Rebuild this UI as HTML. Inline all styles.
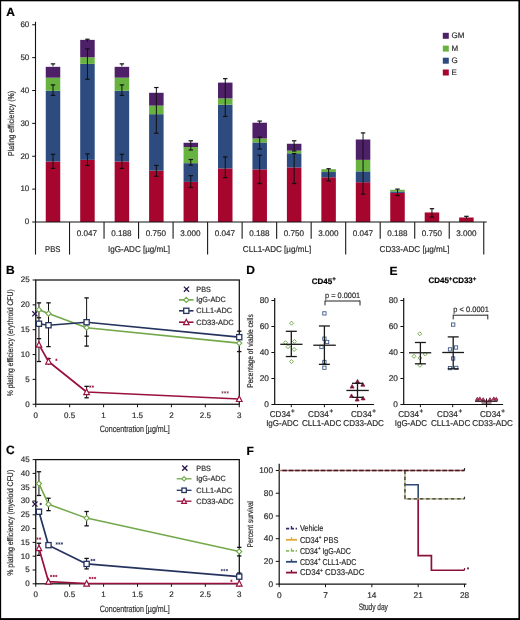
<!DOCTYPE html><html><head><meta charset="utf-8"><style>html,body{margin:0;padding:0;background:#fff;overflow:hidden;}svg{display:block;font-family:"Liberation Sans", sans-serif;text-rendering:geometricPrecision;will-change:transform;}</style></head><body>
<svg width="520" height="620" viewBox="0 0 520 620">
<rect x="0.00" y="0.00" width="520.00" height="620.00" fill="#fff"/>
<text x="6.20" y="15.63" font-size="12" fill="#000" text-anchor="start" font-weight="bold" stroke="#000" stroke-width="0.2">A</text>
<line x1="35.50" y1="21.80" x2="35.50" y2="222.50" stroke="#111" stroke-width="1.1"/>
<line x1="32.20" y1="222.00" x2="35.50" y2="222.00" stroke="#111" stroke-width="1"/>
<text x="29.30" y="224.32" font-size="8" fill="#2e2e2e" text-anchor="end" stroke="#2e2e2e" stroke-width="0.2">0</text>
<line x1="32.20" y1="189.12" x2="35.50" y2="189.12" stroke="#111" stroke-width="1"/>
<text x="29.30" y="191.44" font-size="8" fill="#2e2e2e" text-anchor="end" stroke="#2e2e2e" stroke-width="0.2">10</text>
<line x1="32.20" y1="156.25" x2="35.50" y2="156.25" stroke="#111" stroke-width="1"/>
<text x="29.30" y="158.57" font-size="8" fill="#2e2e2e" text-anchor="end" stroke="#2e2e2e" stroke-width="0.2">20</text>
<line x1="32.20" y1="123.38" x2="35.50" y2="123.38" stroke="#111" stroke-width="1"/>
<text x="29.30" y="125.69" font-size="8" fill="#2e2e2e" text-anchor="end" stroke="#2e2e2e" stroke-width="0.2">30</text>
<line x1="32.20" y1="90.50" x2="35.50" y2="90.50" stroke="#111" stroke-width="1"/>
<text x="29.30" y="92.82" font-size="8" fill="#2e2e2e" text-anchor="end" stroke="#2e2e2e" stroke-width="0.2">40</text>
<line x1="32.20" y1="57.62" x2="35.50" y2="57.62" stroke="#111" stroke-width="1"/>
<text x="29.30" y="59.95" font-size="8" fill="#2e2e2e" text-anchor="end" stroke="#2e2e2e" stroke-width="0.2">50</text>
<line x1="32.20" y1="24.75" x2="35.50" y2="24.75" stroke="#111" stroke-width="1"/>
<text x="29.30" y="27.07" font-size="8" fill="#2e2e2e" text-anchor="end" stroke="#2e2e2e" stroke-width="0.2">60</text>
<text x="11.00" y="126.29" font-size="8.5" fill="#2e2e2e" text-anchor="middle" stroke="#2e2e2e" stroke-width="0.2" textLength="65" lengthAdjust="spacingAndGlyphs" transform="rotate(-90 11.00 123.40)">Plating efficiency (%)</text>
<rect x="45.75" y="161.51" width="14.50" height="60.49" fill="#a6052e"/>
<rect x="45.75" y="90.83" width="14.50" height="70.68" fill="#2d4b7e"/>
<rect x="45.75" y="77.68" width="14.50" height="13.15" fill="#68b240"/>
<rect x="45.75" y="66.83" width="14.50" height="10.85" fill="#4e2068"/>
<line x1="53.00" y1="154.28" x2="53.00" y2="168.41" stroke="#111" stroke-width="1"/>
<line x1="50.80" y1="154.28" x2="55.20" y2="154.28" stroke="#111" stroke-width="1.2"/>
<line x1="50.80" y1="168.41" x2="55.20" y2="168.41" stroke="#111" stroke-width="1.2"/>
<line x1="53.00" y1="84.91" x2="53.00" y2="95.43" stroke="#111" stroke-width="1"/>
<line x1="50.80" y1="84.91" x2="55.20" y2="84.91" stroke="#111" stroke-width="1.2"/>
<line x1="50.80" y1="95.43" x2="55.20" y2="95.43" stroke="#111" stroke-width="1.2"/>
<line x1="53.00" y1="63.87" x2="53.00" y2="66.37" stroke="#111" stroke-width="1"/>
<line x1="50.80" y1="63.87" x2="55.20" y2="63.87" stroke="#111" stroke-width="1.2"/>
<rect x="80.20" y="159.87" width="14.50" height="62.13" fill="#a6052e"/>
<rect x="80.20" y="63.87" width="14.50" height="96.00" fill="#2d4b7e"/>
<rect x="80.20" y="57.30" width="14.50" height="6.58" fill="#68b240"/>
<rect x="80.20" y="39.87" width="14.50" height="17.42" fill="#4e2068"/>
<line x1="87.45" y1="153.95" x2="87.45" y2="165.45" stroke="#111" stroke-width="1"/>
<line x1="85.25" y1="153.95" x2="89.65" y2="153.95" stroke="#111" stroke-width="1.2"/>
<line x1="85.25" y1="165.45" x2="89.65" y2="165.45" stroke="#111" stroke-width="1.2"/>
<line x1="87.45" y1="48.91" x2="87.45" y2="79.32" stroke="#111" stroke-width="1"/>
<line x1="85.25" y1="48.91" x2="89.65" y2="48.91" stroke="#111" stroke-width="1.2"/>
<line x1="85.25" y1="79.32" x2="89.65" y2="79.32" stroke="#111" stroke-width="1.2"/>
<line x1="87.45" y1="39.22" x2="87.45" y2="41.72" stroke="#111" stroke-width="1"/>
<line x1="85.25" y1="39.22" x2="89.65" y2="39.22" stroke="#111" stroke-width="1.2"/>
<rect x="114.65" y="161.51" width="14.50" height="60.49" fill="#a6052e"/>
<rect x="114.65" y="90.83" width="14.50" height="70.68" fill="#2d4b7e"/>
<rect x="114.65" y="77.68" width="14.50" height="13.15" fill="#68b240"/>
<rect x="114.65" y="66.83" width="14.50" height="10.85" fill="#4e2068"/>
<line x1="121.90" y1="154.28" x2="121.90" y2="168.41" stroke="#111" stroke-width="1"/>
<line x1="119.70" y1="154.28" x2="124.10" y2="154.28" stroke="#111" stroke-width="1.2"/>
<line x1="119.70" y1="168.41" x2="124.10" y2="168.41" stroke="#111" stroke-width="1.2"/>
<line x1="121.90" y1="84.91" x2="121.90" y2="95.43" stroke="#111" stroke-width="1"/>
<line x1="119.70" y1="84.91" x2="124.10" y2="84.91" stroke="#111" stroke-width="1.2"/>
<line x1="119.70" y1="95.43" x2="124.10" y2="95.43" stroke="#111" stroke-width="1.2"/>
<line x1="121.90" y1="63.87" x2="121.90" y2="66.37" stroke="#111" stroke-width="1"/>
<line x1="119.70" y1="63.87" x2="124.10" y2="63.87" stroke="#111" stroke-width="1.2"/>
<rect x="149.10" y="170.72" width="14.50" height="51.28" fill="#a6052e"/>
<rect x="149.10" y="114.17" width="14.50" height="56.55" fill="#2d4b7e"/>
<rect x="149.10" y="105.62" width="14.50" height="8.55" fill="#68b240"/>
<rect x="149.10" y="92.80" width="14.50" height="12.82" fill="#4e2068"/>
<line x1="156.35" y1="165.45" x2="156.35" y2="176.30" stroke="#111" stroke-width="1"/>
<line x1="154.15" y1="165.45" x2="158.55" y2="165.45" stroke="#111" stroke-width="1.2"/>
<line x1="154.15" y1="176.30" x2="158.55" y2="176.30" stroke="#111" stroke-width="1.2"/>
<line x1="156.35" y1="87.54" x2="156.35" y2="133.24" stroke="#111" stroke-width="1"/>
<line x1="154.15" y1="87.54" x2="158.55" y2="87.54" stroke="#111" stroke-width="1.2"/>
<line x1="154.15" y1="133.24" x2="158.55" y2="133.24" stroke="#111" stroke-width="1.2"/>
<rect x="183.55" y="181.89" width="14.50" height="40.11" fill="#a6052e"/>
<rect x="183.55" y="163.15" width="14.50" height="18.74" fill="#2d4b7e"/>
<rect x="183.55" y="147.05" width="14.50" height="16.11" fill="#68b240"/>
<rect x="183.55" y="142.77" width="14.50" height="4.27" fill="#4e2068"/>
<line x1="190.80" y1="175.65" x2="190.80" y2="187.48" stroke="#111" stroke-width="1"/>
<line x1="188.60" y1="175.65" x2="193.00" y2="175.65" stroke="#111" stroke-width="1.2"/>
<line x1="188.60" y1="187.48" x2="193.00" y2="187.48" stroke="#111" stroke-width="1.2"/>
<line x1="190.80" y1="159.54" x2="190.80" y2="165.13" stroke="#111" stroke-width="1"/>
<line x1="188.60" y1="159.54" x2="193.00" y2="159.54" stroke="#111" stroke-width="1.2"/>
<line x1="188.60" y1="165.13" x2="193.00" y2="165.13" stroke="#111" stroke-width="1.2"/>
<line x1="190.80" y1="140.80" x2="190.80" y2="150.00" stroke="#111" stroke-width="1"/>
<line x1="188.60" y1="140.80" x2="193.00" y2="140.80" stroke="#111" stroke-width="1.2"/>
<line x1="188.60" y1="150.00" x2="193.00" y2="150.00" stroke="#111" stroke-width="1.2"/>
<rect x="218.00" y="168.41" width="14.50" height="53.59" fill="#a6052e"/>
<rect x="218.00" y="104.64" width="14.50" height="63.78" fill="#2d4b7e"/>
<rect x="218.00" y="98.39" width="14.50" height="6.25" fill="#68b240"/>
<rect x="218.00" y="82.61" width="14.50" height="15.78" fill="#4e2068"/>
<line x1="225.25" y1="156.91" x2="225.25" y2="177.62" stroke="#111" stroke-width="1"/>
<line x1="223.05" y1="156.91" x2="227.45" y2="156.91" stroke="#111" stroke-width="1.2"/>
<line x1="223.05" y1="177.62" x2="227.45" y2="177.62" stroke="#111" stroke-width="1.2"/>
<line x1="225.25" y1="78.66" x2="225.25" y2="116.47" stroke="#111" stroke-width="1"/>
<line x1="223.05" y1="78.66" x2="227.45" y2="78.66" stroke="#111" stroke-width="1.2"/>
<line x1="223.05" y1="116.47" x2="227.45" y2="116.47" stroke="#111" stroke-width="1.2"/>
<rect x="252.45" y="169.40" width="14.50" height="52.60" fill="#a6052e"/>
<rect x="252.45" y="142.44" width="14.50" height="26.96" fill="#2d4b7e"/>
<rect x="252.45" y="138.50" width="14.50" height="3.94" fill="#68b240"/>
<rect x="252.45" y="122.72" width="14.50" height="15.78" fill="#4e2068"/>
<line x1="259.70" y1="155.26" x2="259.70" y2="183.54" stroke="#111" stroke-width="1"/>
<line x1="257.50" y1="155.26" x2="261.90" y2="155.26" stroke="#111" stroke-width="1.2"/>
<line x1="257.50" y1="183.54" x2="261.90" y2="183.54" stroke="#111" stroke-width="1.2"/>
<line x1="259.70" y1="137.18" x2="259.70" y2="149.02" stroke="#111" stroke-width="1"/>
<line x1="257.50" y1="137.18" x2="261.90" y2="137.18" stroke="#111" stroke-width="1.2"/>
<line x1="257.50" y1="149.02" x2="261.90" y2="149.02" stroke="#111" stroke-width="1.2"/>
<line x1="259.70" y1="121.07" x2="259.70" y2="123.57" stroke="#111" stroke-width="1"/>
<line x1="257.50" y1="121.07" x2="261.90" y2="121.07" stroke="#111" stroke-width="1.2"/>
<rect x="286.90" y="167.43" width="14.50" height="54.57" fill="#a6052e"/>
<rect x="286.90" y="153.29" width="14.50" height="14.14" fill="#2d4b7e"/>
<rect x="286.90" y="150.66" width="14.50" height="2.63" fill="#68b240"/>
<rect x="286.90" y="143.76" width="14.50" height="6.90" fill="#4e2068"/>
<line x1="294.15" y1="153.62" x2="294.15" y2="183.54" stroke="#111" stroke-width="1"/>
<line x1="291.95" y1="153.62" x2="296.35" y2="153.62" stroke="#111" stroke-width="1.2"/>
<line x1="291.95" y1="183.54" x2="296.35" y2="183.54" stroke="#111" stroke-width="1.2"/>
<line x1="294.15" y1="140.80" x2="294.15" y2="150.99" stroke="#111" stroke-width="1"/>
<line x1="291.95" y1="140.80" x2="296.35" y2="140.80" stroke="#111" stroke-width="1.2"/>
<line x1="291.95" y1="150.99" x2="296.35" y2="150.99" stroke="#111" stroke-width="1.2"/>
<rect x="321.35" y="177.29" width="14.50" height="44.71" fill="#a6052e"/>
<rect x="321.35" y="172.03" width="14.50" height="5.26" fill="#2d4b7e"/>
<rect x="321.35" y="169.20" width="14.50" height="2.83" fill="#68b240"/>
<line x1="328.60" y1="168.74" x2="328.60" y2="180.91" stroke="#111" stroke-width="1"/>
<line x1="326.40" y1="168.74" x2="330.80" y2="168.74" stroke="#111" stroke-width="1.2"/>
<line x1="326.40" y1="180.91" x2="330.80" y2="180.91" stroke="#111" stroke-width="1.2"/>
<rect x="355.80" y="182.22" width="14.50" height="39.78" fill="#a6052e"/>
<rect x="355.80" y="171.37" width="14.50" height="10.85" fill="#2d4b7e"/>
<rect x="355.80" y="159.87" width="14.50" height="11.51" fill="#68b240"/>
<rect x="355.80" y="139.48" width="14.50" height="20.38" fill="#4e2068"/>
<line x1="363.05" y1="132.91" x2="363.05" y2="194.06" stroke="#111" stroke-width="1"/>
<line x1="360.85" y1="132.91" x2="365.25" y2="132.91" stroke="#111" stroke-width="1.2"/>
<line x1="360.85" y1="194.06" x2="365.25" y2="194.06" stroke="#111" stroke-width="1.2"/>
<rect x="390.25" y="192.91" width="14.50" height="29.09" fill="#a6052e"/>
<rect x="390.25" y="191.43" width="14.50" height="1.48" fill="#2d4b7e"/>
<rect x="390.25" y="189.78" width="14.50" height="1.64" fill="#68b240"/>
<line x1="397.50" y1="189.12" x2="397.50" y2="195.50" stroke="#111" stroke-width="1"/>
<line x1="395.30" y1="189.12" x2="399.70" y2="189.12" stroke="#111" stroke-width="1.2"/>
<line x1="395.30" y1="195.50" x2="399.70" y2="195.50" stroke="#111" stroke-width="1.2"/>
<rect x="424.70" y="212.47" width="14.50" height="9.53" fill="#a6052e"/>
<line x1="431.95" y1="208.69" x2="431.95" y2="217.07" stroke="#111" stroke-width="1"/>
<line x1="429.75" y1="208.69" x2="434.15" y2="208.69" stroke="#111" stroke-width="1.2"/>
<line x1="429.75" y1="217.07" x2="434.15" y2="217.07" stroke="#111" stroke-width="1.2"/>
<rect x="459.15" y="217.50" width="14.50" height="4.50" fill="#a6052e"/>
<line x1="466.40" y1="216.31" x2="466.40" y2="218.81" stroke="#111" stroke-width="1"/>
<line x1="464.20" y1="216.31" x2="468.60" y2="216.31" stroke="#111" stroke-width="1.2"/>
<line x1="35.00" y1="222.00" x2="486.70" y2="222.00" stroke="#111" stroke-width="1.2"/>
<line x1="35.50" y1="222.00" x2="35.50" y2="254.60" stroke="#1a1a1a" stroke-width="1.1"/>
<line x1="69.52" y1="222.00" x2="69.52" y2="254.60" stroke="#1a1a1a" stroke-width="1.1"/>
<line x1="104.04" y1="222.00" x2="104.04" y2="238.80" stroke="#1a1a1a" stroke-width="1.1"/>
<line x1="138.56" y1="222.00" x2="138.56" y2="238.80" stroke="#1a1a1a" stroke-width="1.1"/>
<line x1="173.08" y1="222.00" x2="173.08" y2="238.80" stroke="#1a1a1a" stroke-width="1.1"/>
<line x1="207.60" y1="222.00" x2="207.60" y2="254.60" stroke="#1a1a1a" stroke-width="1.1"/>
<line x1="242.12" y1="222.00" x2="242.12" y2="238.80" stroke="#1a1a1a" stroke-width="1.1"/>
<line x1="276.64" y1="222.00" x2="276.64" y2="238.80" stroke="#1a1a1a" stroke-width="1.1"/>
<line x1="311.16" y1="222.00" x2="311.16" y2="238.80" stroke="#1a1a1a" stroke-width="1.1"/>
<line x1="345.68" y1="222.00" x2="345.68" y2="254.60" stroke="#1a1a1a" stroke-width="1.1"/>
<line x1="380.20" y1="222.00" x2="380.20" y2="238.80" stroke="#1a1a1a" stroke-width="1.1"/>
<line x1="414.72" y1="222.00" x2="414.72" y2="238.80" stroke="#1a1a1a" stroke-width="1.1"/>
<line x1="449.24" y1="222.00" x2="449.24" y2="238.80" stroke="#1a1a1a" stroke-width="1.1"/>
<line x1="483.76" y1="222.00" x2="483.76" y2="254.60" stroke="#1a1a1a" stroke-width="1.1"/>
<text x="86.78" y="235.59" font-size="8.2" fill="#2e2e2e" text-anchor="middle" stroke="#2e2e2e" stroke-width="0.2" textLength="20.3" lengthAdjust="spacingAndGlyphs">0.047</text>
<text x="121.30" y="235.59" font-size="8.2" fill="#2e2e2e" text-anchor="middle" stroke="#2e2e2e" stroke-width="0.2" textLength="20.3" lengthAdjust="spacingAndGlyphs">0.188</text>
<text x="155.82" y="235.59" font-size="8.2" fill="#2e2e2e" text-anchor="middle" stroke="#2e2e2e" stroke-width="0.2" textLength="20.3" lengthAdjust="spacingAndGlyphs">0.750</text>
<text x="190.34" y="235.59" font-size="8.2" fill="#2e2e2e" text-anchor="middle" stroke="#2e2e2e" stroke-width="0.2" textLength="20.3" lengthAdjust="spacingAndGlyphs">3.000</text>
<text x="224.86" y="235.59" font-size="8.2" fill="#2e2e2e" text-anchor="middle" stroke="#2e2e2e" stroke-width="0.2" textLength="20.3" lengthAdjust="spacingAndGlyphs">0.047</text>
<text x="259.38" y="235.59" font-size="8.2" fill="#2e2e2e" text-anchor="middle" stroke="#2e2e2e" stroke-width="0.2" textLength="20.3" lengthAdjust="spacingAndGlyphs">0.188</text>
<text x="293.90" y="235.59" font-size="8.2" fill="#2e2e2e" text-anchor="middle" stroke="#2e2e2e" stroke-width="0.2" textLength="20.3" lengthAdjust="spacingAndGlyphs">0.750</text>
<text x="328.42" y="235.59" font-size="8.2" fill="#2e2e2e" text-anchor="middle" stroke="#2e2e2e" stroke-width="0.2" textLength="20.3" lengthAdjust="spacingAndGlyphs">3.000</text>
<text x="362.94" y="235.59" font-size="8.2" fill="#2e2e2e" text-anchor="middle" stroke="#2e2e2e" stroke-width="0.2" textLength="20.3" lengthAdjust="spacingAndGlyphs">0.047</text>
<text x="397.46" y="235.59" font-size="8.2" fill="#2e2e2e" text-anchor="middle" stroke="#2e2e2e" stroke-width="0.2" textLength="20.3" lengthAdjust="spacingAndGlyphs">0.188</text>
<text x="431.98" y="235.59" font-size="8.2" fill="#2e2e2e" text-anchor="middle" stroke="#2e2e2e" stroke-width="0.2" textLength="20.3" lengthAdjust="spacingAndGlyphs">0.750</text>
<text x="466.50" y="235.59" font-size="8.2" fill="#2e2e2e" text-anchor="middle" stroke="#2e2e2e" stroke-width="0.2" textLength="20.3" lengthAdjust="spacingAndGlyphs">3.000</text>
<text x="52.80" y="252.49" font-size="8.5" fill="#2e2e2e" text-anchor="middle" stroke="#2e2e2e" stroke-width="0.2" textLength="15.4" lengthAdjust="spacingAndGlyphs">PBS</text>
<text x="139.00" y="252.49" font-size="8.5" fill="#2e2e2e" text-anchor="middle" stroke="#2e2e2e" stroke-width="0.2" textLength="62" lengthAdjust="spacingAndGlyphs">IgG-ADC [µg/mL]</text>
<text x="277.00" y="252.49" font-size="8.5" fill="#2e2e2e" text-anchor="middle" stroke="#2e2e2e" stroke-width="0.2" textLength="68.3" lengthAdjust="spacingAndGlyphs">CLL1-ADC [µg/mL]</text>
<text x="414.60" y="252.49" font-size="8.5" fill="#2e2e2e" text-anchor="middle" stroke="#2e2e2e" stroke-width="0.2" textLength="70" lengthAdjust="spacingAndGlyphs">CD33-ADC [µg/mL]</text>
<rect x="442.80" y="32.80" width="6.00" height="6.00" fill="#4e2068"/>
<text x="451.50" y="37.92" font-size="8.0" fill="#2e2e2e" text-anchor="start" stroke="#2e2e2e" stroke-width="0.2">GM</text>
<rect x="442.80" y="45.60" width="6.00" height="6.00" fill="#68b240"/>
<text x="451.50" y="50.72" font-size="8.0" fill="#2e2e2e" text-anchor="start" stroke="#2e2e2e" stroke-width="0.2">M</text>
<rect x="442.80" y="57.70" width="6.00" height="6.00" fill="#2d4b7e"/>
<text x="451.50" y="62.82" font-size="8.0" fill="#2e2e2e" text-anchor="start" stroke="#2e2e2e" stroke-width="0.2">G</text>
<rect x="442.80" y="69.50" width="6.00" height="6.00" fill="#a6052e"/>
<text x="451.50" y="74.62" font-size="8.0" fill="#2e2e2e" text-anchor="start" stroke="#2e2e2e" stroke-width="0.2">E</text>
<text x="6.00" y="274.48" font-size="12" fill="#000" text-anchor="start" font-weight="bold" stroke="#000" stroke-width="0.2">B</text>
<rect x="35.75" y="280.00" width="203.55" height="124.25" fill="none" stroke="#111" stroke-width="1.25"/>
<line x1="32.60" y1="404.25" x2="35.75" y2="404.25" stroke="#111" stroke-width="1"/>
<text x="29.60" y="406.67" font-size="8" fill="#2e2e2e" text-anchor="end" stroke="#2e2e2e" stroke-width="0.2">0</text>
<line x1="32.60" y1="379.40" x2="35.75" y2="379.40" stroke="#111" stroke-width="1"/>
<text x="29.60" y="381.82" font-size="8" fill="#2e2e2e" text-anchor="end" stroke="#2e2e2e" stroke-width="0.2">5</text>
<line x1="32.60" y1="354.55" x2="35.75" y2="354.55" stroke="#111" stroke-width="1"/>
<text x="29.60" y="356.97" font-size="8" fill="#2e2e2e" text-anchor="end" stroke="#2e2e2e" stroke-width="0.2">10</text>
<line x1="32.60" y1="329.70" x2="35.75" y2="329.70" stroke="#111" stroke-width="1"/>
<text x="29.60" y="332.12" font-size="8" fill="#2e2e2e" text-anchor="end" stroke="#2e2e2e" stroke-width="0.2">15</text>
<line x1="32.60" y1="304.85" x2="35.75" y2="304.85" stroke="#111" stroke-width="1"/>
<text x="29.60" y="307.27" font-size="8" fill="#2e2e2e" text-anchor="end" stroke="#2e2e2e" stroke-width="0.2">20</text>
<line x1="32.60" y1="280.00" x2="35.75" y2="280.00" stroke="#111" stroke-width="1"/>
<text x="29.60" y="282.42" font-size="8" fill="#2e2e2e" text-anchor="end" stroke="#2e2e2e" stroke-width="0.2">25</text>
<line x1="35.75" y1="404.25" x2="35.75" y2="407.25" stroke="#111" stroke-width="1"/>
<text x="35.75" y="417.92" font-size="8" fill="#2e2e2e" text-anchor="middle" stroke="#2e2e2e" stroke-width="0.2">0</text>
<line x1="69.66" y1="404.25" x2="69.66" y2="407.25" stroke="#111" stroke-width="1"/>
<text x="69.66" y="417.92" font-size="8" fill="#2e2e2e" text-anchor="middle" stroke="#2e2e2e" stroke-width="0.2">0.5</text>
<line x1="103.58" y1="404.25" x2="103.58" y2="407.25" stroke="#111" stroke-width="1"/>
<text x="103.58" y="417.92" font-size="8" fill="#2e2e2e" text-anchor="middle" stroke="#2e2e2e" stroke-width="0.2">1</text>
<line x1="137.50" y1="404.25" x2="137.50" y2="407.25" stroke="#111" stroke-width="1"/>
<text x="137.50" y="417.92" font-size="8" fill="#2e2e2e" text-anchor="middle" stroke="#2e2e2e" stroke-width="0.2">1.5</text>
<line x1="171.41" y1="404.25" x2="171.41" y2="407.25" stroke="#111" stroke-width="1"/>
<text x="171.41" y="417.92" font-size="8" fill="#2e2e2e" text-anchor="middle" stroke="#2e2e2e" stroke-width="0.2">2</text>
<line x1="205.32" y1="404.25" x2="205.32" y2="407.25" stroke="#111" stroke-width="1"/>
<text x="205.32" y="417.92" font-size="8" fill="#2e2e2e" text-anchor="middle" stroke="#2e2e2e" stroke-width="0.2">2.5</text>
<line x1="239.24" y1="404.25" x2="239.24" y2="407.25" stroke="#111" stroke-width="1"/>
<text x="239.24" y="417.92" font-size="8" fill="#2e2e2e" text-anchor="middle" stroke="#2e2e2e" stroke-width="0.2">3</text>
<text x="134.70" y="431.76" font-size="9.3" fill="#2e2e2e" text-anchor="middle" stroke="#2e2e2e" stroke-width="0.2" textLength="70" lengthAdjust="spacingAndGlyphs">Concentration [µg/mL]</text>
<text x="10.40" y="345.59" font-size="8.2" fill="#2e2e2e" text-anchor="middle" stroke="#2e2e2e" stroke-width="0.2" textLength="107" lengthAdjust="spacingAndGlyphs" transform="rotate(-90 10.40 342.80)">% plating efficiency (erythroid CFU)</text>
<line x1="38.94" y1="302.86" x2="38.94" y2="361.51" stroke="#111" stroke-width="1"/>
<line x1="36.74" y1="302.86" x2="41.14" y2="302.86" stroke="#111" stroke-width="1.3"/>
<line x1="36.74" y1="317.77" x2="41.14" y2="317.77" stroke="#111" stroke-width="1.3"/>
<line x1="36.74" y1="338.65" x2="41.14" y2="338.65" stroke="#111" stroke-width="1.3"/>
<line x1="36.74" y1="361.51" x2="41.14" y2="361.51" stroke="#111" stroke-width="1.3"/>
<line x1="48.50" y1="302.86" x2="48.50" y2="346.60" stroke="#111" stroke-width="1"/>
<line x1="48.50" y1="358.53" x2="48.50" y2="364.99" stroke="#111" stroke-width="1"/>
<line x1="46.30" y1="302.86" x2="50.70" y2="302.86" stroke="#111" stroke-width="1.3"/>
<line x1="46.30" y1="346.60" x2="50.70" y2="346.60" stroke="#111" stroke-width="1.3"/>
<line x1="46.30" y1="358.53" x2="50.70" y2="358.53" stroke="#111" stroke-width="1.3"/>
<line x1="86.62" y1="297.89" x2="86.62" y2="346.10" stroke="#111" stroke-width="1"/>
<line x1="86.62" y1="386.36" x2="86.62" y2="397.79" stroke="#111" stroke-width="1"/>
<line x1="84.42" y1="297.89" x2="88.82" y2="297.89" stroke="#111" stroke-width="1.3"/>
<line x1="84.42" y1="346.10" x2="88.82" y2="346.10" stroke="#111" stroke-width="1.3"/>
<line x1="84.42" y1="336.16" x2="88.82" y2="336.16" stroke="#111" stroke-width="1.3"/>
<line x1="84.42" y1="386.36" x2="88.82" y2="386.36" stroke="#111" stroke-width="1.3"/>
<line x1="84.42" y1="397.79" x2="88.82" y2="397.79" stroke="#111" stroke-width="1.3"/>
<line x1="237.04" y1="331.19" x2="241.44" y2="331.19" stroke="#111" stroke-width="1.3"/>
<line x1="237.04" y1="351.57" x2="241.44" y2="351.57" stroke="#111" stroke-width="1.3"/>
<path d="M38.94 309.82L48.50 313.55L86.62 327.71L239.24 343.12" fill="none" stroke="#72a84a" stroke-width="1.55" stroke-linejoin="round"/>
<path d="M38.94 323.74L48.50 325.23L86.62 322.25L239.24 337.15" fill="none" stroke="#25335f" stroke-width="1.7" stroke-linejoin="round"/>
<path d="M38.94 344.61L48.50 361.51L86.62 392.02L239.24 398.98" fill="none" stroke="#9a1040" stroke-width="1.7" stroke-linejoin="round"/>
<path d="M32.30 311.20L37.50 316.40M37.50 311.20L32.30 316.40" stroke="#2a1848" stroke-width="1.3"/>
<path d="M38.94 307.22L41.54 309.82L38.94 312.42L36.34 309.82Z" fill="#fff" stroke="#72a84a" stroke-width="1.1"/>
<path d="M48.50 310.95L51.10 313.55L48.50 316.15L45.90 313.55Z" fill="#fff" stroke="#72a84a" stroke-width="1.1"/>
<path d="M86.62 325.11L89.22 327.71L86.62 330.31L84.02 327.71Z" fill="#fff" stroke="#72a84a" stroke-width="1.1"/>
<path d="M239.24 340.52L241.84 343.12L239.24 345.72L236.64 343.12Z" fill="#fff" stroke="#72a84a" stroke-width="1.1"/>
<rect x="36.34" y="321.14" width="5.2" height="5.2" fill="#fff" stroke="#25335f" stroke-width="1.3"/>
<rect x="45.90" y="322.63" width="5.2" height="5.2" fill="#fff" stroke="#25335f" stroke-width="1.3"/>
<rect x="84.02" y="319.64" width="5.2" height="5.2" fill="#fff" stroke="#25335f" stroke-width="1.3"/>
<rect x="236.64" y="334.55" width="5.2" height="5.2" fill="#fff" stroke="#25335f" stroke-width="1.3"/>
<path d="M38.94 341.69L41.74 347.13L36.14 347.13Z" fill="#fff" stroke="#9a1040" stroke-width="1.2"/>
<path d="M48.50 358.59L51.30 364.03L45.70 364.03Z" fill="#fff" stroke="#9a1040" stroke-width="1.2"/>
<path d="M86.62 389.10L89.42 394.54L83.82 394.54Z" fill="#fff" stroke="#9a1040" stroke-width="1.2"/>
<path d="M239.24 396.06L242.04 401.50L236.44 401.50Z" fill="#fff" stroke="#9a1040" stroke-width="1.2"/>
<path d="M56.40 358.65L56.40 360.95M55.40 359.23L57.40 360.38M57.40 359.23L55.40 360.38" stroke="#9a1040" stroke-width="0.75" fill="none"/>
<path d="M90.20 385.45L90.20 387.75M89.20 386.03L91.20 387.18M91.20 386.03L89.20 387.18" stroke="#9a1040" stroke-width="0.75" fill="none"/>
<path d="M92.80 385.45L92.80 387.75M91.80 386.03L93.80 387.18M93.80 386.03L91.80 387.18" stroke="#9a1040" stroke-width="0.75" fill="none"/>
<path d="M222.50 391.25L222.50 393.55M221.50 391.82L223.50 392.97M223.50 391.82L221.50 392.97" stroke="#8a4a5a" stroke-width="0.75" fill="none"/>
<path d="M225.10 391.25L225.10 393.55M224.10 391.82L226.10 392.97M226.10 391.82L224.10 392.97" stroke="#8a4a5a" stroke-width="0.75" fill="none"/>
<path d="M227.70 391.25L227.70 393.55M226.70 391.82L228.70 392.97M228.70 391.82L226.70 392.97" stroke="#8a4a5a" stroke-width="0.75" fill="none"/>
<path d="M183.90 286.60L189.10 291.80M189.10 286.60L183.90 291.80" stroke="#2a1848" stroke-width="1.3"/>
<text x="196.30" y="291.78" font-size="7.6" fill="#2e2e2e" text-anchor="start" stroke="#2e2e2e" stroke-width="0.2" textLength="14.5" lengthAdjust="spacingAndGlyphs">PBS</text>
<line x1="179.00" y1="299.90" x2="193.50" y2="299.90" stroke="#72a84a" stroke-width="1.6"/>
<path d="M186.30 297.30L188.90 299.90L186.30 302.50L183.70 299.90Z" fill="#fff" stroke="#72a84a" stroke-width="1.1"/>
<text x="196.30" y="302.48" font-size="7.6" fill="#2e2e2e" text-anchor="start" stroke="#2e2e2e" stroke-width="0.2" textLength="29.4" lengthAdjust="spacingAndGlyphs">IgG-ADC</text>
<line x1="179.00" y1="310.80" x2="193.50" y2="310.80" stroke="#25335f" stroke-width="1.6"/>
<rect x="183.70" y="308.20" width="5.2" height="5.2" fill="#fff" stroke="#25335f" stroke-width="1.3"/>
<text x="196.30" y="313.38" font-size="7.6" fill="#2e2e2e" text-anchor="start" stroke="#2e2e2e" stroke-width="0.2" textLength="35.8" lengthAdjust="spacingAndGlyphs">CLL1-ADC</text>
<line x1="179.00" y1="322.20" x2="193.50" y2="322.20" stroke="#9a1040" stroke-width="1.6"/>
<path d="M186.30 319.28L189.10 324.72L183.50 324.72Z" fill="#fff" stroke="#9a1040" stroke-width="1.2"/>
<text x="196.30" y="324.78" font-size="7.6" fill="#2e2e2e" text-anchor="start" stroke="#2e2e2e" stroke-width="0.2" textLength="37.5" lengthAdjust="spacingAndGlyphs">CD33-ADC</text>
<text x="6.00" y="454.08" font-size="12" fill="#000" text-anchor="start" font-weight="bold" stroke="#000" stroke-width="0.2">C</text>
<rect x="35.75" y="459.60" width="203.55" height="124.20" fill="none" stroke="#111" stroke-width="1.25"/>
<line x1="32.60" y1="583.80" x2="35.75" y2="583.80" stroke="#111" stroke-width="1"/>
<text x="29.60" y="586.22" font-size="8" fill="#2e2e2e" text-anchor="end" stroke="#2e2e2e" stroke-width="0.2">0</text>
<line x1="32.60" y1="570.00" x2="35.75" y2="570.00" stroke="#111" stroke-width="1"/>
<text x="29.60" y="572.42" font-size="8" fill="#2e2e2e" text-anchor="end" stroke="#2e2e2e" stroke-width="0.2">5</text>
<line x1="32.60" y1="556.20" x2="35.75" y2="556.20" stroke="#111" stroke-width="1"/>
<text x="29.60" y="558.62" font-size="8" fill="#2e2e2e" text-anchor="end" stroke="#2e2e2e" stroke-width="0.2">10</text>
<line x1="32.60" y1="542.40" x2="35.75" y2="542.40" stroke="#111" stroke-width="1"/>
<text x="29.60" y="544.82" font-size="8" fill="#2e2e2e" text-anchor="end" stroke="#2e2e2e" stroke-width="0.2">15</text>
<line x1="32.60" y1="528.60" x2="35.75" y2="528.60" stroke="#111" stroke-width="1"/>
<text x="29.60" y="531.02" font-size="8" fill="#2e2e2e" text-anchor="end" stroke="#2e2e2e" stroke-width="0.2">20</text>
<line x1="32.60" y1="514.80" x2="35.75" y2="514.80" stroke="#111" stroke-width="1"/>
<text x="29.60" y="517.22" font-size="8" fill="#2e2e2e" text-anchor="end" stroke="#2e2e2e" stroke-width="0.2">25</text>
<line x1="32.60" y1="501.00" x2="35.75" y2="501.00" stroke="#111" stroke-width="1"/>
<text x="29.60" y="503.42" font-size="8" fill="#2e2e2e" text-anchor="end" stroke="#2e2e2e" stroke-width="0.2">30</text>
<line x1="32.60" y1="487.20" x2="35.75" y2="487.20" stroke="#111" stroke-width="1"/>
<text x="29.60" y="489.62" font-size="8" fill="#2e2e2e" text-anchor="end" stroke="#2e2e2e" stroke-width="0.2">35</text>
<line x1="32.60" y1="473.40" x2="35.75" y2="473.40" stroke="#111" stroke-width="1"/>
<text x="29.60" y="475.82" font-size="8" fill="#2e2e2e" text-anchor="end" stroke="#2e2e2e" stroke-width="0.2">40</text>
<line x1="32.60" y1="459.60" x2="35.75" y2="459.60" stroke="#111" stroke-width="1"/>
<text x="29.60" y="462.02" font-size="8" fill="#2e2e2e" text-anchor="end" stroke="#2e2e2e" stroke-width="0.2">45</text>
<line x1="35.75" y1="583.80" x2="35.75" y2="586.80" stroke="#111" stroke-width="1"/>
<text x="35.75" y="597.32" font-size="8" fill="#2e2e2e" text-anchor="middle" stroke="#2e2e2e" stroke-width="0.2">0</text>
<line x1="69.66" y1="583.80" x2="69.66" y2="586.80" stroke="#111" stroke-width="1"/>
<text x="69.66" y="597.32" font-size="8" fill="#2e2e2e" text-anchor="middle" stroke="#2e2e2e" stroke-width="0.2">0.5</text>
<line x1="103.58" y1="583.80" x2="103.58" y2="586.80" stroke="#111" stroke-width="1"/>
<text x="103.58" y="597.32" font-size="8" fill="#2e2e2e" text-anchor="middle" stroke="#2e2e2e" stroke-width="0.2">1</text>
<line x1="137.50" y1="583.80" x2="137.50" y2="586.80" stroke="#111" stroke-width="1"/>
<text x="137.50" y="597.32" font-size="8" fill="#2e2e2e" text-anchor="middle" stroke="#2e2e2e" stroke-width="0.2">1.5</text>
<line x1="171.41" y1="583.80" x2="171.41" y2="586.80" stroke="#111" stroke-width="1"/>
<text x="171.41" y="597.32" font-size="8" fill="#2e2e2e" text-anchor="middle" stroke="#2e2e2e" stroke-width="0.2">2</text>
<line x1="205.32" y1="583.80" x2="205.32" y2="586.80" stroke="#111" stroke-width="1"/>
<text x="205.32" y="597.32" font-size="8" fill="#2e2e2e" text-anchor="middle" stroke="#2e2e2e" stroke-width="0.2">2.5</text>
<line x1="239.24" y1="583.80" x2="239.24" y2="586.80" stroke="#111" stroke-width="1"/>
<text x="239.24" y="597.32" font-size="8" fill="#2e2e2e" text-anchor="middle" stroke="#2e2e2e" stroke-width="0.2">3</text>
<text x="134.70" y="611.56" font-size="9.3" fill="#2e2e2e" text-anchor="middle" stroke="#2e2e2e" stroke-width="0.2" textLength="70" lengthAdjust="spacingAndGlyphs">Concentration [µg/mL]</text>
<text x="10.40" y="525.59" font-size="8.2" fill="#2e2e2e" text-anchor="middle" stroke="#2e2e2e" stroke-width="0.2" textLength="106" lengthAdjust="spacingAndGlyphs" transform="rotate(-90 10.40 522.80)">% plating efficiency (myeloid CFU)</text>
<line x1="38.94" y1="471.74" x2="38.94" y2="495.48" stroke="#111" stroke-width="1"/>
<line x1="38.94" y1="543.23" x2="38.94" y2="555.37" stroke="#111" stroke-width="1"/>
<line x1="36.74" y1="471.74" x2="41.14" y2="471.74" stroke="#111" stroke-width="1.3"/>
<line x1="36.74" y1="495.48" x2="41.14" y2="495.48" stroke="#111" stroke-width="1.3"/>
<line x1="36.74" y1="543.23" x2="41.14" y2="543.23" stroke="#111" stroke-width="1.3"/>
<line x1="36.74" y1="555.37" x2="41.14" y2="555.37" stroke="#111" stroke-width="1.3"/>
<line x1="48.50" y1="498.24" x2="48.50" y2="510.66" stroke="#111" stroke-width="1"/>
<line x1="46.30" y1="498.24" x2="50.70" y2="498.24" stroke="#111" stroke-width="1.3"/>
<line x1="46.30" y1="510.66" x2="50.70" y2="510.66" stroke="#111" stroke-width="1.3"/>
<line x1="86.62" y1="511.49" x2="86.62" y2="525.84" stroke="#111" stroke-width="1"/>
<line x1="86.62" y1="558.41" x2="86.62" y2="568.90" stroke="#111" stroke-width="1"/>
<line x1="84.42" y1="511.49" x2="88.82" y2="511.49" stroke="#111" stroke-width="1.3"/>
<line x1="84.42" y1="525.84" x2="88.82" y2="525.84" stroke="#111" stroke-width="1.3"/>
<line x1="84.42" y1="558.41" x2="88.82" y2="558.41" stroke="#111" stroke-width="1.3"/>
<line x1="84.42" y1="568.90" x2="88.82" y2="568.90" stroke="#111" stroke-width="1.3"/>
<line x1="237.04" y1="547.37" x2="241.44" y2="547.37" stroke="#111" stroke-width="1.3"/>
<line x1="237.04" y1="555.92" x2="241.44" y2="555.92" stroke="#111" stroke-width="1.3"/>
<line x1="237.04" y1="573.04" x2="241.44" y2="573.04" stroke="#111" stroke-width="1.3"/>
<path d="M38.94 483.61L48.50 504.31L86.62 518.11L239.24 551.51" fill="none" stroke="#72a84a" stroke-width="1.55" stroke-linejoin="round"/>
<path d="M38.94 511.76L48.50 545.16L86.62 563.93L239.24 576.62" fill="none" stroke="#25335f" stroke-width="1.7" stroke-linejoin="round"/>
<path d="M38.94 548.20L48.50 581.59L86.62 583.52L239.24 583.52" fill="none" stroke="#9a1040" stroke-width="1.7" stroke-linejoin="round"/>
<path d="M32.30 501.44L37.50 506.64M37.50 501.44L32.30 506.64" stroke="#2a1848" stroke-width="1.3"/>
<path d="M38.94 481.01L41.54 483.61L38.94 486.21L36.34 483.61Z" fill="#fff" stroke="#72a84a" stroke-width="1.1"/>
<path d="M48.50 501.71L51.10 504.31L48.50 506.91L45.90 504.31Z" fill="#fff" stroke="#72a84a" stroke-width="1.1"/>
<path d="M86.62 515.51L89.22 518.11L86.62 520.71L84.02 518.11Z" fill="#fff" stroke="#72a84a" stroke-width="1.1"/>
<path d="M239.24 548.91L241.84 551.51L239.24 554.11L236.64 551.51Z" fill="#fff" stroke="#72a84a" stroke-width="1.1"/>
<rect x="36.34" y="509.16" width="5.2" height="5.2" fill="#fff" stroke="#25335f" stroke-width="1.3"/>
<rect x="45.90" y="542.56" width="5.2" height="5.2" fill="#fff" stroke="#25335f" stroke-width="1.3"/>
<rect x="84.02" y="561.33" width="5.2" height="5.2" fill="#fff" stroke="#25335f" stroke-width="1.3"/>
<rect x="236.64" y="574.02" width="5.2" height="5.2" fill="#fff" stroke="#25335f" stroke-width="1.3"/>
<path d="M38.94 545.28L41.74 550.72L36.14 550.72Z" fill="#fff" stroke="#9a1040" stroke-width="1.2"/>
<path d="M48.50 578.67L51.30 584.11L45.70 584.11Z" fill="#fff" stroke="#9a1040" stroke-width="1.2"/>
<path d="M86.62 580.60L89.42 586.04L83.82 586.04Z" fill="#fff" stroke="#9a1040" stroke-width="1.2"/>
<path d="M239.24 580.60L242.04 586.04L236.44 586.04Z" fill="#fff" stroke="#9a1040" stroke-width="1.2"/>
<path d="M40.70 502.85L40.70 505.15M39.70 503.43L41.70 504.57M41.70 503.43L39.70 504.57" stroke="#2a1848" stroke-width="0.75" fill="none"/>
<path d="M37.50 537.45L37.50 539.75M36.50 538.02L38.50 539.18M38.50 538.02L36.50 539.18" stroke="#9a1040" stroke-width="0.75" fill="none"/>
<path d="M40.10 537.45L40.10 539.75M39.10 538.02L41.10 539.18M41.10 538.02L39.10 539.18" stroke="#9a1040" stroke-width="0.75" fill="none"/>
<path d="M56.70 542.35L56.70 544.65M55.70 542.92L57.70 544.08M57.70 542.92L55.70 544.08" stroke="#25335f" stroke-width="0.75" fill="none"/>
<path d="M59.30 542.35L59.30 544.65M58.30 542.92L60.30 544.08M60.30 542.92L58.30 544.08" stroke="#25335f" stroke-width="0.75" fill="none"/>
<path d="M61.90 542.35L61.90 544.65M60.90 542.92L62.90 544.08M62.90 542.92L60.90 544.08" stroke="#25335f" stroke-width="0.75" fill="none"/>
<path d="M51.10 574.85L51.10 577.15M50.10 575.42L52.10 576.58M52.10 575.42L50.10 576.58" stroke="#9a1040" stroke-width="0.75" fill="none"/>
<path d="M53.70 574.85L53.70 577.15M52.70 575.42L54.70 576.58M54.70 575.42L52.70 576.58" stroke="#9a1040" stroke-width="0.75" fill="none"/>
<path d="M56.30 574.85L56.30 577.15M55.30 575.42L57.30 576.58M57.30 575.42L55.30 576.58" stroke="#9a1040" stroke-width="0.75" fill="none"/>
<path d="M91.60 558.85L91.60 561.15M90.60 559.42L92.60 560.58M92.60 559.42L90.60 560.58" stroke="#25335f" stroke-width="0.75" fill="none"/>
<path d="M94.20 558.85L94.20 561.15M93.20 559.42L95.20 560.58M95.20 559.42L93.20 560.58" stroke="#25335f" stroke-width="0.75" fill="none"/>
<path d="M89.90 576.85L89.90 579.15M88.90 577.42L90.90 578.58M90.90 577.42L88.90 578.58" stroke="#9a1040" stroke-width="0.75" fill="none"/>
<path d="M92.50 576.85L92.50 579.15M91.50 577.42L93.50 578.58M93.50 577.42L91.50 578.58" stroke="#9a1040" stroke-width="0.75" fill="none"/>
<path d="M95.10 576.85L95.10 579.15M94.10 577.42L96.10 578.58M96.10 577.42L94.10 578.58" stroke="#9a1040" stroke-width="0.75" fill="none"/>
<path d="M221.80 568.95L221.80 571.25M220.80 569.52L222.80 570.68M222.80 569.52L220.80 570.68" stroke="#4a5070" stroke-width="0.75" fill="none"/>
<path d="M224.40 568.95L224.40 571.25M223.40 569.52L225.40 570.68M225.40 569.52L223.40 570.68" stroke="#4a5070" stroke-width="0.75" fill="none"/>
<path d="M227.00 568.95L227.00 571.25M226.00 569.52L228.00 570.68M228.00 569.52L226.00 570.68" stroke="#4a5070" stroke-width="0.75" fill="none"/>
<path d="M231.40 579.65L231.40 581.95M230.40 580.22L232.40 581.38M232.40 580.22L230.40 581.38" stroke="#9a1040" stroke-width="0.75" fill="none"/>
<path d="M182.20 465.50L187.40 470.70M187.40 465.50L182.20 470.70" stroke="#2a1848" stroke-width="1.3"/>
<text x="196.30" y="470.68" font-size="7.6" fill="#2e2e2e" text-anchor="start" stroke="#2e2e2e" stroke-width="0.2" textLength="14.5" lengthAdjust="spacingAndGlyphs">PBS</text>
<line x1="176.70" y1="478.80" x2="191.50" y2="478.80" stroke="#72a84a" stroke-width="1.3"/>
<path d="M184.10 476.59L186.31 478.80L184.10 481.01L181.89 478.80Z" fill="#fff" stroke="#72a84a" stroke-width="1.1"/>
<text x="196.30" y="481.38" font-size="7.6" fill="#2e2e2e" text-anchor="start" stroke="#2e2e2e" stroke-width="0.2" textLength="29.4" lengthAdjust="spacingAndGlyphs">IgG-ADC</text>
<line x1="176.70" y1="490.30" x2="191.50" y2="490.30" stroke="#25335f" stroke-width="1.3"/>
<rect x="181.89" y="488.09" width="4.42" height="4.42" fill="#fff" stroke="#25335f" stroke-width="1.3"/>
<text x="196.30" y="492.88" font-size="7.6" fill="#2e2e2e" text-anchor="start" stroke="#2e2e2e" stroke-width="0.2" textLength="35.8" lengthAdjust="spacingAndGlyphs">CLL1-ADC</text>
<line x1="176.70" y1="501.20" x2="191.50" y2="501.20" stroke="#9a1040" stroke-width="1.3"/>
<path d="M184.10 498.66L186.48 503.34L181.72 503.34Z" fill="#fff" stroke="#9a1040" stroke-width="1.2"/>
<text x="196.30" y="503.78" font-size="7.6" fill="#2e2e2e" text-anchor="start" stroke="#2e2e2e" stroke-width="0.2" textLength="37.5" lengthAdjust="spacingAndGlyphs">CD33-ADC</text>
<text x="246.30" y="274.43" font-size="12" fill="#000" text-anchor="start" font-weight="bold" stroke="#000" stroke-width="0.2">D</text>
<text x="311.70" y="283.62" font-size="8.0" fill="#000" text-anchor="start" stroke="#000" stroke-width="0.2" font-weight="bold"><tspan>CD45</tspan><tspan font-size="6.24" dy="-2.88">+</tspan></text>
<text x="250.60" y="353.79" font-size="8.2" fill="#2e2e2e" text-anchor="middle" stroke="#2e2e2e" stroke-width="0.2" textLength="73.5" lengthAdjust="spacingAndGlyphs" transform="rotate(-90 250.60 351.00)">Pecentage of viable cells</text>
<line x1="274.70" y1="298.10" x2="274.70" y2="405.00" stroke="#111" stroke-width="1.2"/>
<line x1="274.10" y1="404.50" x2="374.10" y2="404.50" stroke="#111" stroke-width="1.2"/>
<line x1="271.40" y1="404.50" x2="274.70" y2="404.50" stroke="#111" stroke-width="1"/>
<text x="268.90" y="407.02" font-size="8.3" fill="#2e2e2e" text-anchor="end" stroke="#2e2e2e" stroke-width="0.2">0</text>
<line x1="271.40" y1="378.50" x2="274.70" y2="378.50" stroke="#111" stroke-width="1"/>
<text x="268.90" y="381.02" font-size="8.3" fill="#2e2e2e" text-anchor="end" stroke="#2e2e2e" stroke-width="0.2">20</text>
<line x1="271.40" y1="352.50" x2="274.70" y2="352.50" stroke="#111" stroke-width="1"/>
<text x="268.90" y="355.02" font-size="8.3" fill="#2e2e2e" text-anchor="end" stroke="#2e2e2e" stroke-width="0.2">40</text>
<line x1="271.40" y1="326.50" x2="274.70" y2="326.50" stroke="#111" stroke-width="1"/>
<text x="268.90" y="329.02" font-size="8.3" fill="#2e2e2e" text-anchor="end" stroke="#2e2e2e" stroke-width="0.2">60</text>
<line x1="271.40" y1="300.50" x2="274.70" y2="300.50" stroke="#111" stroke-width="1"/>
<text x="268.90" y="303.02" font-size="8.3" fill="#2e2e2e" text-anchor="end" stroke="#2e2e2e" stroke-width="0.2">80</text>
<line x1="291.30" y1="404.50" x2="291.30" y2="407.20" stroke="#111" stroke-width="1"/>
<line x1="324.40" y1="404.50" x2="324.40" y2="407.20" stroke="#111" stroke-width="1"/>
<line x1="357.50" y1="404.50" x2="357.50" y2="407.20" stroke="#111" stroke-width="1"/>
<text x="280.10" y="416.89" font-size="8.5" fill="#2e2e2e" text-anchor="middle" stroke="#2e2e2e" stroke-width="0.2" textLength="20.8" lengthAdjust="spacingAndGlyphs">CD34</text>
<text x="292.90" y="413.34" font-size="6.3" fill="#2e2e2e" text-anchor="middle" stroke="#2e2e2e" stroke-width="0.3">+</text>
<text x="282.30" y="426.29" font-size="8.5" fill="#2e2e2e" text-anchor="middle" stroke="#2e2e2e" stroke-width="0.2" textLength="32.3" lengthAdjust="spacingAndGlyphs">IgG-ADC</text>
<text x="318.50" y="416.89" font-size="8.5" fill="#2e2e2e" text-anchor="middle" stroke="#2e2e2e" stroke-width="0.2" textLength="20.8" lengthAdjust="spacingAndGlyphs">CD34</text>
<text x="331.30" y="413.34" font-size="6.3" fill="#2e2e2e" text-anchor="middle" stroke="#2e2e2e" stroke-width="0.3">+</text>
<text x="321.60" y="426.29" font-size="8.5" fill="#2e2e2e" text-anchor="middle" stroke="#2e2e2e" stroke-width="0.2" textLength="39.4" lengthAdjust="spacingAndGlyphs">CLL1-ADC</text>
<text x="361.40" y="416.89" font-size="8.5" fill="#2e2e2e" text-anchor="middle" stroke="#2e2e2e" stroke-width="0.2" textLength="20.8" lengthAdjust="spacingAndGlyphs">CD34</text>
<text x="374.20" y="413.34" font-size="6.3" fill="#2e2e2e" text-anchor="middle" stroke="#2e2e2e" stroke-width="0.3">+</text>
<text x="363.65" y="426.29" font-size="8.5" fill="#2e2e2e" text-anchor="middle" stroke="#2e2e2e" stroke-width="0.2" textLength="40.7" lengthAdjust="spacingAndGlyphs">CD33-ADC</text>
<path d="M291.50 321.20L293.50 323.20L291.50 325.20L289.50 323.20Z" fill="#fff" stroke="#6aa03f" stroke-width="0.9"/>
<path d="M285.50 340.70L287.50 342.70L285.50 344.70L283.50 342.70Z" fill="#fff" stroke="#6aa03f" stroke-width="0.9"/>
<path d="M288.05 344.70L290.05 346.70L288.05 348.70L286.05 346.70Z" fill="#fff" stroke="#6aa03f" stroke-width="0.9"/>
<path d="M294.40 339.40L296.40 341.40L294.40 343.40L292.40 341.40Z" fill="#fff" stroke="#6aa03f" stroke-width="0.9"/>
<path d="M294.20 347.50L296.20 349.50L294.20 351.50L292.20 349.50Z" fill="#fff" stroke="#6aa03f" stroke-width="0.9"/>
<path d="M291.50 359.60L293.50 361.60L291.50 363.60L289.50 361.60Z" fill="#fff" stroke="#6aa03f" stroke-width="0.9"/>
<line x1="291.30" y1="331.31" x2="291.30" y2="356.53" stroke="#1a1a1a" stroke-width="1.3"/>
<line x1="285.80" y1="331.31" x2="296.80" y2="331.31" stroke="#1a1a1a" stroke-width="1.3"/>
<line x1="285.80" y1="356.53" x2="296.80" y2="356.53" stroke="#1a1a1a" stroke-width="1.3"/>
<line x1="280.30" y1="344.31" x2="302.50" y2="344.31" stroke="#1a1a1a" stroke-width="1.3"/>
<rect x="322.75" y="311.75" width="3.3" height="3.3" fill="#fff" stroke="#3d5a8a" stroke-width="0.9"/>
<rect x="322.75" y="337.05" width="3.3" height="3.3" fill="#fff" stroke="#3d5a8a" stroke-width="0.9"/>
<rect x="325.45" y="340.35" width="3.3" height="3.3" fill="#fff" stroke="#3d5a8a" stroke-width="0.9"/>
<rect x="319.85" y="345.35" width="3.3" height="3.3" fill="#fff" stroke="#3d5a8a" stroke-width="0.9"/>
<rect x="322.75" y="360.35" width="3.3" height="3.3" fill="#fff" stroke="#3d5a8a" stroke-width="0.9"/>
<rect x="322.75" y="366.05" width="3.3" height="3.3" fill="#fff" stroke="#3d5a8a" stroke-width="0.9"/>
<line x1="324.40" y1="325.98" x2="324.40" y2="364.33" stroke="#1a1a1a" stroke-width="1.3"/>
<line x1="318.90" y1="325.98" x2="329.90" y2="325.98" stroke="#1a1a1a" stroke-width="1.3"/>
<line x1="318.90" y1="364.33" x2="329.90" y2="364.33" stroke="#1a1a1a" stroke-width="1.3"/>
<line x1="313.30" y1="345.22" x2="335.80" y2="345.22" stroke="#1a1a1a" stroke-width="1.3"/>
<path d="M357.50 379.40L359.50 383.00L355.50 383.00Z" fill="#7e1234" stroke="#7e1234" stroke-width="0.7"/>
<path d="M352.10 384.50L354.10 388.10L350.10 388.10Z" fill="#7e1234" stroke="#7e1234" stroke-width="0.7"/>
<path d="M362.80 382.60L364.80 386.20L360.80 386.20Z" fill="#7e1234" stroke="#7e1234" stroke-width="0.7"/>
<path d="M351.50 393.90L353.50 397.50L349.50 397.50Z" fill="#7e1234" stroke="#7e1234" stroke-width="0.7"/>
<path d="M357.20 397.40L359.20 401.00L355.20 401.00Z" fill="#7e1234" stroke="#7e1234" stroke-width="0.7"/>
<path d="M363.10 396.30L365.10 399.90L361.10 399.90Z" fill="#7e1234" stroke="#7e1234" stroke-width="0.7"/>
<line x1="357.50" y1="383.31" x2="357.50" y2="397.35" stroke="#1a1a1a" stroke-width="1.3"/>
<line x1="352.00" y1="383.31" x2="363.00" y2="383.31" stroke="#1a1a1a" stroke-width="1.3"/>
<line x1="352.00" y1="397.35" x2="363.00" y2="397.35" stroke="#1a1a1a" stroke-width="1.3"/>
<line x1="346.40" y1="390.46" x2="368.80" y2="390.46" stroke="#1a1a1a" stroke-width="1.3"/>
<line x1="325.00" y1="301.00" x2="360.00" y2="301.00" stroke="#222" stroke-width="1"/>
<line x1="325.00" y1="300.50" x2="325.00" y2="305.40" stroke="#222" stroke-width="1"/>
<line x1="360.00" y1="300.50" x2="360.00" y2="305.40" stroke="#222" stroke-width="1"/>
<text x="342.60" y="298.25" font-size="7.8" fill="#2e2e2e" text-anchor="middle" stroke="#2e2e2e" stroke-width="0.2" textLength="35" lengthAdjust="spacingAndGlyphs">p = 0.0001</text>
<text x="389.40" y="275.23" font-size="12" fill="#000" text-anchor="start" font-weight="bold" stroke="#000" stroke-width="0.2">E</text>
<text x="428.50" y="283.42" font-size="8.0" fill="#000" text-anchor="start" stroke="#000" stroke-width="0.2" font-weight="bold" textLength="47.9" lengthAdjust="spacingAndGlyphs"><tspan>CD45</tspan><tspan font-size="6.24" dy="-2.88">+</tspan><tspan font-size="8.0" dy="2.88">CD33</tspan><tspan font-size="6.24" dy="-2.88">+</tspan></text>
<line x1="403.70" y1="298.10" x2="403.70" y2="405.00" stroke="#111" stroke-width="1.2"/>
<line x1="403.10" y1="404.50" x2="503.10" y2="404.50" stroke="#111" stroke-width="1.2"/>
<line x1="400.40" y1="404.50" x2="403.70" y2="404.50" stroke="#111" stroke-width="1"/>
<text x="397.90" y="407.02" font-size="8.3" fill="#2e2e2e" text-anchor="end" stroke="#2e2e2e" stroke-width="0.2">0</text>
<line x1="400.40" y1="378.50" x2="403.70" y2="378.50" stroke="#111" stroke-width="1"/>
<text x="397.90" y="381.02" font-size="8.3" fill="#2e2e2e" text-anchor="end" stroke="#2e2e2e" stroke-width="0.2">20</text>
<line x1="400.40" y1="352.50" x2="403.70" y2="352.50" stroke="#111" stroke-width="1"/>
<text x="397.90" y="355.02" font-size="8.3" fill="#2e2e2e" text-anchor="end" stroke="#2e2e2e" stroke-width="0.2">40</text>
<line x1="400.40" y1="326.50" x2="403.70" y2="326.50" stroke="#111" stroke-width="1"/>
<text x="397.90" y="329.02" font-size="8.3" fill="#2e2e2e" text-anchor="end" stroke="#2e2e2e" stroke-width="0.2">60</text>
<line x1="400.40" y1="300.50" x2="403.70" y2="300.50" stroke="#111" stroke-width="1"/>
<text x="397.90" y="303.02" font-size="8.3" fill="#2e2e2e" text-anchor="end" stroke="#2e2e2e" stroke-width="0.2">80</text>
<line x1="420.40" y1="404.50" x2="420.40" y2="407.20" stroke="#111" stroke-width="1"/>
<line x1="452.70" y1="404.50" x2="452.70" y2="407.20" stroke="#111" stroke-width="1"/>
<line x1="486.60" y1="404.50" x2="486.60" y2="407.20" stroke="#111" stroke-width="1"/>
<text x="408.60" y="416.89" font-size="8.5" fill="#2e2e2e" text-anchor="middle" stroke="#2e2e2e" stroke-width="0.2" textLength="20.8" lengthAdjust="spacingAndGlyphs">CD34</text>
<text x="421.40" y="413.34" font-size="6.3" fill="#2e2e2e" text-anchor="middle" stroke="#2e2e2e" stroke-width="0.3">+</text>
<text x="410.90" y="426.29" font-size="8.5" fill="#2e2e2e" text-anchor="middle" stroke="#2e2e2e" stroke-width="0.2" textLength="32.3" lengthAdjust="spacingAndGlyphs">IgG-ADC</text>
<text x="447.50" y="416.89" font-size="8.5" fill="#2e2e2e" text-anchor="middle" stroke="#2e2e2e" stroke-width="0.2" textLength="20.8" lengthAdjust="spacingAndGlyphs">CD34</text>
<text x="460.30" y="413.34" font-size="6.3" fill="#2e2e2e" text-anchor="middle" stroke="#2e2e2e" stroke-width="0.3">+</text>
<text x="450.60" y="426.29" font-size="8.5" fill="#2e2e2e" text-anchor="middle" stroke="#2e2e2e" stroke-width="0.2" textLength="39.4" lengthAdjust="spacingAndGlyphs">CLL1-ADC</text>
<text x="490.40" y="416.89" font-size="8.5" fill="#2e2e2e" text-anchor="middle" stroke="#2e2e2e" stroke-width="0.2" textLength="20.8" lengthAdjust="spacingAndGlyphs">CD34</text>
<text x="503.20" y="413.34" font-size="6.3" fill="#2e2e2e" text-anchor="middle" stroke="#2e2e2e" stroke-width="0.3">+</text>
<text x="492.65" y="426.29" font-size="8.5" fill="#2e2e2e" text-anchor="middle" stroke="#2e2e2e" stroke-width="0.2" textLength="40.7" lengthAdjust="spacingAndGlyphs">CD33-ADC</text>
<path d="M419.75 331.75L421.75 333.75L419.75 335.75L417.75 333.75Z" fill="#fff" stroke="#6aa03f" stroke-width="0.9"/>
<path d="M414.00 354.25L416.00 356.25L414.00 358.25L412.00 356.25Z" fill="#fff" stroke="#6aa03f" stroke-width="0.9"/>
<path d="M425.25 352.00L427.25 354.00L425.25 356.00L423.25 354.00Z" fill="#fff" stroke="#6aa03f" stroke-width="0.9"/>
<path d="M420.00 356.10L422.00 358.10L420.00 360.10L418.00 358.10Z" fill="#fff" stroke="#6aa03f" stroke-width="0.9"/>
<path d="M420.00 363.25L422.00 365.25L420.00 367.25L418.00 365.25Z" fill="#fff" stroke="#6aa03f" stroke-width="0.9"/>
<line x1="420.40" y1="342.49" x2="420.40" y2="363.81" stroke="#1a1a1a" stroke-width="1.3"/>
<line x1="414.90" y1="342.49" x2="425.90" y2="342.49" stroke="#1a1a1a" stroke-width="1.3"/>
<line x1="414.90" y1="363.81" x2="425.90" y2="363.81" stroke="#1a1a1a" stroke-width="1.3"/>
<line x1="409.00" y1="352.76" x2="431.25" y2="352.76" stroke="#1a1a1a" stroke-width="1.3"/>
<rect x="451.55" y="322.95" width="3.3" height="3.3" fill="#fff" stroke="#3d5a8a" stroke-width="0.9"/>
<rect x="448.35" y="347.75" width="3.3" height="3.3" fill="#fff" stroke="#3d5a8a" stroke-width="0.9"/>
<rect x="454.35" y="345.85" width="3.3" height="3.3" fill="#fff" stroke="#3d5a8a" stroke-width="0.9"/>
<rect x="451.45" y="356.85" width="3.3" height="3.3" fill="#fff" stroke="#3d5a8a" stroke-width="0.9"/>
<rect x="448.35" y="366.45" width="3.3" height="3.3" fill="#fff" stroke="#3d5a8a" stroke-width="0.9"/>
<rect x="454.60" y="366.25" width="3.3" height="3.3" fill="#fff" stroke="#3d5a8a" stroke-width="0.9"/>
<line x1="453.20" y1="336.90" x2="453.20" y2="368.75" stroke="#1a1a1a" stroke-width="1.3"/>
<line x1="447.70" y1="336.90" x2="458.70" y2="336.90" stroke="#1a1a1a" stroke-width="1.3"/>
<line x1="447.70" y1="368.75" x2="458.70" y2="368.75" stroke="#1a1a1a" stroke-width="1.3"/>
<line x1="442.25" y1="352.50" x2="464.00" y2="352.50" stroke="#1a1a1a" stroke-width="1.3"/>
<path d="M477.30 397.30L479.00 400.20L475.60 400.20Z" fill="#c05070" stroke="#7e1234" stroke-width="0.8"/>
<path d="M479.80 396.90L481.50 399.80L478.10 399.80Z" fill="#c05070" stroke="#7e1234" stroke-width="0.8"/>
<path d="M483.20 397.70L484.90 400.60L481.50 400.60Z" fill="#c05070" stroke="#7e1234" stroke-width="0.8"/>
<path d="M490.00 397.70L491.70 400.60L488.30 400.60Z" fill="#c05070" stroke="#7e1234" stroke-width="0.8"/>
<path d="M493.80 396.90L495.50 399.80L492.10 399.80Z" fill="#c05070" stroke="#7e1234" stroke-width="0.8"/>
<path d="M496.30 397.30L498.00 400.20L494.60 400.20Z" fill="#c05070" stroke="#7e1234" stroke-width="0.8"/>
<line x1="475.00" y1="401.20" x2="497.50" y2="401.20" stroke="#2a0a14" stroke-width="1.3"/>
<line x1="481.50" y1="403.00" x2="491.50" y2="403.00" stroke="#3a0a1c" stroke-width="1.0"/>
<line x1="486.50" y1="398.50" x2="486.50" y2="404.50" stroke="#2a0a14" stroke-width="1.0"/>
<line x1="453.20" y1="315.20" x2="487.80" y2="315.20" stroke="#222" stroke-width="1"/>
<line x1="453.20" y1="314.70" x2="453.20" y2="319.40" stroke="#222" stroke-width="1"/>
<line x1="487.80" y1="314.70" x2="487.80" y2="319.40" stroke="#222" stroke-width="1"/>
<text x="471.10" y="312.45" font-size="7.8" fill="#2e2e2e" text-anchor="middle" stroke="#2e2e2e" stroke-width="0.2" textLength="35.5" lengthAdjust="spacingAndGlyphs">p &lt; 0.0001</text>
<text x="246.40" y="454.53" font-size="12" fill="#000" text-anchor="start" font-weight="bold" stroke="#000" stroke-width="0.2">F</text>
<line x1="279.20" y1="463.80" x2="279.20" y2="584.60" stroke="#111" stroke-width="1.2"/>
<line x1="278.60" y1="584.20" x2="466.40" y2="584.20" stroke="#111" stroke-width="1.2"/>
<line x1="275.80" y1="584.10" x2="279.20" y2="584.10" stroke="#111" stroke-width="1"/>
<text x="273.00" y="586.72" font-size="8.3" fill="#2e2e2e" text-anchor="end" stroke="#2e2e2e" stroke-width="0.2">0</text>
<line x1="275.80" y1="561.38" x2="279.20" y2="561.38" stroke="#111" stroke-width="1"/>
<text x="273.00" y="564.00" font-size="8.3" fill="#2e2e2e" text-anchor="end" stroke="#2e2e2e" stroke-width="0.2">20</text>
<line x1="275.80" y1="538.66" x2="279.20" y2="538.66" stroke="#111" stroke-width="1"/>
<text x="273.00" y="541.28" font-size="8.3" fill="#2e2e2e" text-anchor="end" stroke="#2e2e2e" stroke-width="0.2">40</text>
<line x1="275.80" y1="515.94" x2="279.20" y2="515.94" stroke="#111" stroke-width="1"/>
<text x="273.00" y="518.56" font-size="8.3" fill="#2e2e2e" text-anchor="end" stroke="#2e2e2e" stroke-width="0.2">60</text>
<line x1="275.80" y1="493.22" x2="279.20" y2="493.22" stroke="#111" stroke-width="1"/>
<text x="273.00" y="495.84" font-size="8.3" fill="#2e2e2e" text-anchor="end" stroke="#2e2e2e" stroke-width="0.2">80</text>
<line x1="275.80" y1="470.50" x2="279.20" y2="470.50" stroke="#111" stroke-width="1"/>
<text x="273.00" y="473.12" font-size="8.3" fill="#2e2e2e" text-anchor="end" stroke="#2e2e2e" stroke-width="0.2">100</text>
<line x1="279.20" y1="584.20" x2="279.20" y2="587.20" stroke="#111" stroke-width="1"/>
<text x="279.20" y="597.52" font-size="8.3" fill="#2e2e2e" text-anchor="middle" stroke="#2e2e2e" stroke-width="0.2">0</text>
<line x1="325.53" y1="584.20" x2="325.53" y2="587.20" stroke="#111" stroke-width="1"/>
<text x="325.53" y="597.52" font-size="8.3" fill="#2e2e2e" text-anchor="middle" stroke="#2e2e2e" stroke-width="0.2">7</text>
<line x1="371.85" y1="584.20" x2="371.85" y2="587.20" stroke="#111" stroke-width="1"/>
<text x="371.85" y="597.52" font-size="8.3" fill="#2e2e2e" text-anchor="middle" stroke="#2e2e2e" stroke-width="0.2">14</text>
<line x1="418.18" y1="584.20" x2="418.18" y2="587.20" stroke="#111" stroke-width="1"/>
<text x="418.18" y="597.52" font-size="8.3" fill="#2e2e2e" text-anchor="middle" stroke="#2e2e2e" stroke-width="0.2">21</text>
<line x1="464.50" y1="584.20" x2="464.50" y2="587.20" stroke="#111" stroke-width="1"/>
<text x="464.50" y="597.52" font-size="8.3" fill="#2e2e2e" text-anchor="middle" stroke="#2e2e2e" stroke-width="0.2">28</text>
<text x="373.30" y="610.46" font-size="9.3" fill="#2e2e2e" text-anchor="middle" stroke="#2e2e2e" stroke-width="0.2" textLength="29.2" lengthAdjust="spacingAndGlyphs">Study day</text>
<text x="249.80" y="526.99" font-size="8.2" fill="#2e2e2e" text-anchor="middle" stroke="#2e2e2e" stroke-width="0.2" textLength="46.5" lengthAdjust="spacingAndGlyphs" transform="rotate(-90 249.80 524.20)">Percent survival</text>
<path d="M418.18 498.90V555.70H431.41V570.24H464.50" fill="none" stroke="#8a1238" stroke-width="1.7"/>
<line x1="464.50" y1="568.04" x2="464.50" y2="570.24" stroke="#8a1238" stroke-width="1.2"/>
<path d="M468.00 567.25L468.00 569.55M467.00 567.82L469.00 568.98M469.00 567.82L467.00 568.98" stroke="#6a1a30" stroke-width="0.75" fill="none"/>
<path d="M404.94 484.70H418.18V498.90" fill="none" stroke="#2e4a72" stroke-width="1.6"/>
<path d="M404.94 470.50V498.90H464.50" fill="none" stroke="#9aaa7a" stroke-width="1.3"/>
<path d="M404.94 470.50V498.90H464.50" fill="none" stroke="#4a3428" stroke-width="1.3" stroke-dasharray="3.4 2.8"/>
<line x1="464.50" y1="496.70" x2="464.50" y2="498.90" stroke="#333" stroke-width="1.2"/>
<line x1="279.20" y1="470.50" x2="464.50" y2="470.50" stroke="#c07060" stroke-width="1.4"/>
<line x1="282.30" y1="470.50" x2="464.50" y2="470.50" stroke="#3a1a2a" stroke-width="1.4" stroke-dasharray="4.6 1.8"/>
<line x1="464.50" y1="468.10" x2="464.50" y2="470.50" stroke="#222" stroke-width="1.2"/>
<line x1="286.00" y1="528.60" x2="297.00" y2="528.60" stroke="#3a2a6a" stroke-width="1.8" stroke-dasharray="3.2 1.6"/>
<line x1="291.50" y1="526.00" x2="291.50" y2="528.60" stroke="#3a2a6a" stroke-width="1.3"/>
<text x="299.90" y="531.49" font-size="8.5" fill="#2e2e2e" text-anchor="start" stroke="#2e2e2e" stroke-width="0.2" textLength="23.5" lengthAdjust="spacingAndGlyphs">Vehicle</text>
<line x1="286.00" y1="539.80" x2="297.00" y2="539.80" stroke="#e0a838" stroke-width="1.8"/>
<line x1="291.50" y1="537.20" x2="291.50" y2="539.80" stroke="#e0a838" stroke-width="1.3"/>
<text x="299.90" y="542.69" font-size="8.5" fill="#2e2e2e" text-anchor="start" stroke="#2e2e2e" stroke-width="0.2" textLength="38.5" lengthAdjust="spacingAndGlyphs"><tspan>CD34</tspan><tspan font-size="5.27" dy="-3.23">+</tspan><tspan font-size="8.5" dy="3.23"> PBS</tspan></text>
<line x1="286.00" y1="550.80" x2="297.00" y2="550.80" stroke="#8cbc64" stroke-width="1.8" stroke-dasharray="3.2 1.6"/>
<line x1="291.50" y1="548.20" x2="291.50" y2="550.80" stroke="#8cbc64" stroke-width="1.3"/>
<text x="299.90" y="553.69" font-size="8.5" fill="#2e2e2e" text-anchor="start" stroke="#2e2e2e" stroke-width="0.2" textLength="51.0" lengthAdjust="spacingAndGlyphs"><tspan>CD34</tspan><tspan font-size="5.27" dy="-3.23">+</tspan><tspan font-size="8.5" dy="3.23"> IgG-ADC</tspan></text>
<line x1="286.00" y1="561.80" x2="297.00" y2="561.80" stroke="#2e4a72" stroke-width="1.8"/>
<line x1="291.50" y1="559.20" x2="291.50" y2="561.80" stroke="#2e4a72" stroke-width="1.3"/>
<text x="299.90" y="564.69" font-size="8.5" fill="#2e2e2e" text-anchor="start" stroke="#2e2e2e" stroke-width="0.2" textLength="56.5" lengthAdjust="spacingAndGlyphs"><tspan>CD34</tspan><tspan font-size="5.27" dy="-3.23">+</tspan><tspan font-size="8.5" dy="3.23"> CLL1-ADC</tspan></text>
<line x1="286.00" y1="572.60" x2="297.00" y2="572.60" stroke="#8a1238" stroke-width="1.8"/>
<line x1="291.50" y1="570.00" x2="291.50" y2="572.60" stroke="#8a1238" stroke-width="1.3"/>
<text x="299.90" y="575.49" font-size="8.5" fill="#2e2e2e" text-anchor="start" stroke="#2e2e2e" stroke-width="0.2" textLength="64.5" lengthAdjust="spacingAndGlyphs"><tspan>CD34</tspan><tspan font-size="5.27" dy="-3.23">+</tspan><tspan font-size="8.5" dy="3.23"> CD33-ADC</tspan></text>
<rect x="0.00" y="0.00" width="520.00" height="1.30" fill="#000"/>
<rect x="0.00" y="0.00" width="1.15" height="620.00" fill="#000"/>
<rect x="518.40" y="0.00" width="1.60" height="620.00" fill="#000"/>
<rect x="0.00" y="618.10" width="520.00" height="1.90" fill="#000"/>
</svg></body></html>
